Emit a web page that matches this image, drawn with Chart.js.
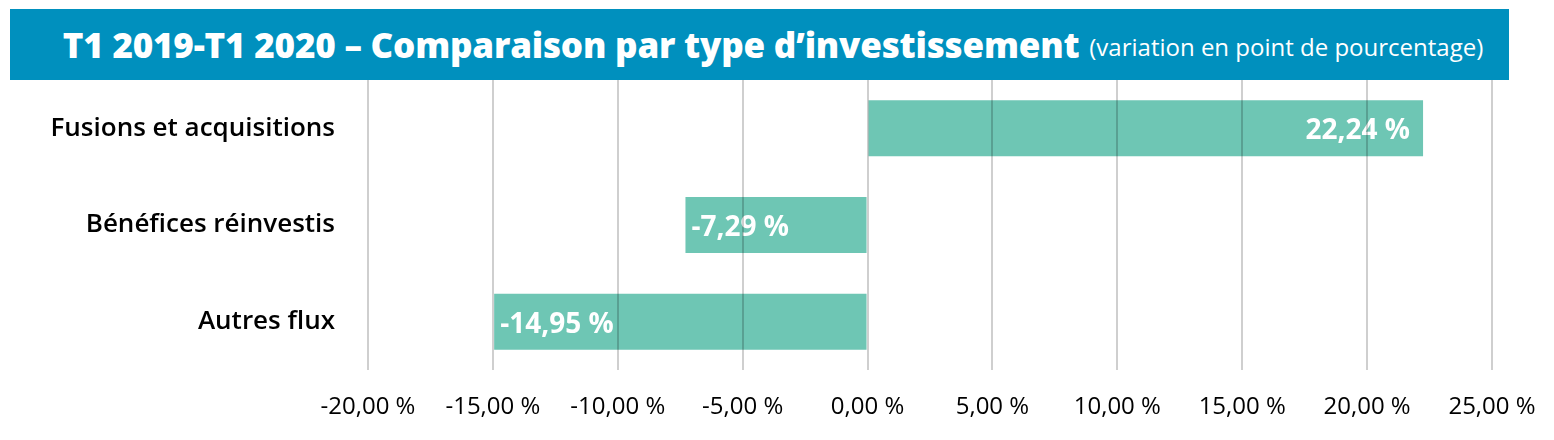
<!DOCTYPE html>
<html>
<head>
<meta charset="utf-8">
<script src="https://cdn.jsdelivr.net/npm/chart.js@4"></script>
<style>
  body { margin: 0; width: 1554px; height: 440px; background: #fff; font-family: "Open Sans", sans-serif; overflow: hidden; }
  #title {
    position: absolute; left: 10px; top: 9px; width: 1499px; height: 71px;
    background: #0090be; color: #fff; display: flex; align-items: center; justify-content: center;
    white-space: nowrap; padding-left: 27px; box-sizing: border-box;
  }
  #title b { font-size: 35px; font-weight: 800; letter-spacing: -0.2px; }
  #title span { font-size: 24px; margin-left: 10px; position: relative; top: 2px; }
  #wrap { position: absolute; left: 0; top: 80px; width: 1554px; height: 360px; }
</style>
</head>
<body>
<div id="title"><b>T1 2019-T1 2020 – Comparaison par type d’investissement</b><span>(variation en point de pourcentage)</span></div>
<div id="wrap"><canvas id="chart" width="1554" height="360"></canvas></div>
<script>
const categories = ["Fusions et acquisitions", "Bénéfices réinvestis", "Autres flux"];
const variations = [22.24, -7.29, -14.95];
const tickMin = -20;
const tickMax = 25;
const tickStep = 5;

function frPercent(v) {
  return v.toFixed(2).replace(".", ",") + " %";
}

// white value labels drawn inside the bars
const barLabels = {
  id: "barLabels",
  afterDatasetsDraw(chart) {
    const ctx = chart.ctx;
    const meta = chart.getDatasetMeta(0);
    ctx.save();
    ctx.font = "bold 28px 'Open Sans'";
    ctx.fillStyle = "#ffffff";
    ctx.textBaseline = "middle";
    meta.data.forEach((bar, i) => {
      const v = variations[i];
      if (v >= 0) {
        ctx.textAlign = "right";
        ctx.fillText(frPercent(v), bar.x - 13, bar.y + 3);
      } else {
        ctx.textAlign = "left";
        ctx.fillText(frPercent(v), bar.x + 6, bar.y + 3);
      }
    });
    ctx.restore();
  }
};

new Chart(document.getElementById("chart"), {
  type: "bar",
  data: {
    labels: categories,
    datasets: [{
      data: variations,
      backgroundColor: "#6ec6b4",
      borderWidth: 0,
      barPercentage: 0.58,
      categoryPercentage: 1
    }]
  },
  options: {
    indexAxis: "y",
    responsive: false,
    animation: false,
    layout: { padding: { left: 0, right: 62, top: 0, bottom: 0 } },
    plugins: { legend: { display: false }, tooltip: { enabled: false } },
    scales: {
      x: {
        min: tickMin,
        max: tickMax,
        grid: { color: "rgba(0,0,0,0.19)", lineWidth: 2, drawTicks: false, z: 1 },
        border: { display: false },
        ticks: {
          stepSize: tickStep,
          padding: 23,
          color: "#000",
          font: { family: "Open Sans", size: 24 },
          callback: v => frPercent(v)
        },
        afterFit(scale) {
          scale.height = 70;
          scale.paddingLeft = 0;
          scale.paddingRight = 0;
        }
      },
      y: {
        grid: { display: false, drawTicks: false },
        border: { display: false },
        ticks: {
          padding: 33,
          color: "#000",
          font: { family: "Open Sans", size: 26, weight: 600 }
        },
        afterFit(scale) {
          scale.width = 368;
          scale.paddingTop = 0;
          scale.paddingBottom = 0;
        }
      }
    }
  },
  plugins: [barLabels]
});
</script>
</body>
</html>
